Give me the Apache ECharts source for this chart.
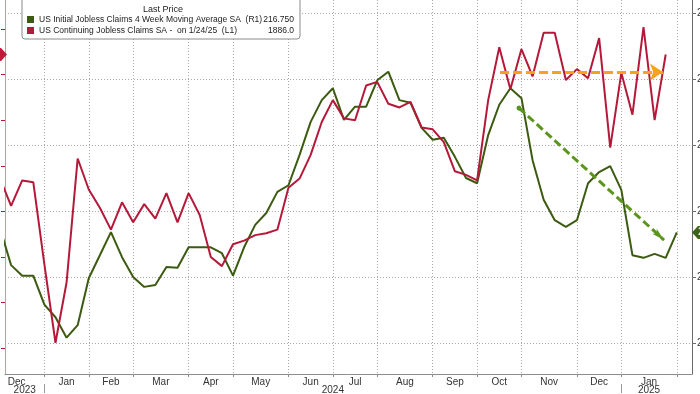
<!DOCTYPE html>
<html><head><meta charset="utf-8">
<script src="https://cdn.jsdelivr.net/npm/echarts@6/dist/echarts.min.js"></script>
<style>html,body{margin:0;padding:0;background:#fff}#c{width:700px;height:394px}</style>
</head><body><div id="c"></div><script>
// Weekly periods (Fridays)
const weeks = ['2023-12-08','2023-12-15','2023-12-22','2023-12-29',
'2024-01-05','2024-01-12','2024-01-19','2024-01-26','2024-02-02','2024-02-09','2024-02-16','2024-02-23',
'2024-03-01','2024-03-08','2024-03-15','2024-03-22','2024-03-29','2024-04-05','2024-04-12','2024-04-19','2024-04-26',
'2024-05-03','2024-05-10','2024-05-17','2024-05-24','2024-05-31','2024-06-07','2024-06-14','2024-06-21','2024-06-28',
'2024-07-05','2024-07-12','2024-07-19','2024-07-26','2024-08-02','2024-08-09','2024-08-16','2024-08-23','2024-08-30',
'2024-09-06','2024-09-13','2024-09-20','2024-09-27','2024-10-04','2024-10-11','2024-10-18','2024-10-25',
'2024-11-01','2024-11-08','2024-11-15','2024-11-22','2024-11-29','2024-12-06','2024-12-13','2024-12-20','2024-12-27',
'2025-01-03','2025-01-10','2025-01-17','2025-01-24','2025-01-31','2025-02-07'];

// US Initial Jobless Claims 4 Week Moving Average SA (thousands, right axis)
const initialClaims4wk = [217.4,211.8,210.2,210.2,205.8,203.9,200.8,202.7,209.8,213.3,216.8,213.0,
210.0,208.5,208.8,211.5,211.4,214.5,214.5,214.5,213.6,210.2,214.5,217.9,219.7,222.9,223.9,228.5,233.5,236.8,
238.6,233.8,235.8,235.8,239.8,241.1,236.8,236.4,232.6,230.8,231.1,228.2,225.0,224.2,231.5,236.1,238.6,237.1,
227.7,221.7,218.6,217.6,218.6,224.2,225.9,226.8,223.2,213.3,212.9,213.5,212.9,216.75];

// US Continuing Jobless Claims SA (thousands, left axis)
const continuingClaims = [1818,1803,1817,1816,1771,1728,1761,1829,1812,1802,1790,1805,
1794,1804,1796,1810,1794,1810,1798,1775,1770,1782,1784,1787,1788,1790,1813,1818,1831,1849,
1861,1851,1850,1869,1871,1859,1857,1860,1846,1845,1838,1822,1820,1817,1861,1890,1867,1889,
1874,1898,1898,1872,1878,1873,1895,1835,1876,1853,1901,1850,1886];

const seriesNames = ['US Initial Jobless Claims 4 Week Moving Average SA  (R1)',
                     'US Continuing Jobless Claims SA -  on 1/24/25  (L1)'];
const lastValues = ['216.750','1886.0'];
const monthLabels = ['Dec','Jan','Feb','Mar','Apr','May','Jun','Jul','Aug','Sep','Oct','Nov','Dec','Jan'];
const yearLabels = ['2023','2024','2025'];
const rightTicks = [200,210,220,230,240,250];
const leftTicks = [1725,1750,1775,1800,1825,1850,1875,1900];
// annotation arrows: [weekIndex, value]
const flatArrow = [[45.07,1876.4],[59.75,1876.4]];   // on continuing-claims axis
const downArrow = [[46.78,235.6],[59.85,215.6]];     // on initial-claims axis

// visible window (week index) and value ranges
const X_MIN = 0.4507, X_MAX = 62.37;
const L_MIN = 1710.86, L_MAX = 1915.9;
const R_MIN = 195.30, R_MAX = 251.97;

// month ticks at first week of each month
const monthStarts = [];
weeks.forEach((w,i)=>{
  if(i===0){ const dom = +w.slice(8,10); monthStarts.push(-Math.floor((dom-1)/7)); }
  else if(w.slice(0,7)!==weeks[i-1].slice(0,7)) monthStarts.push(i);
});
const monthMid = [];
for(let k=0;k<monthStarts.length-1;k++) monthMid.push((monthStarts[k]+monthStarts[k+1])/2);
const monthMap = {}; monthMid.forEach((m,k)=>monthMap[m.toFixed(2)] = monthLabels[k]);
const yearStarts = monthStarts.filter((s,k)=> s>=0 && s<weeks.length && weeks[s].slice(5,7)==='01');
const yearMid = [(X_MIN+yearStarts[0])/2, (yearStarts[0]+yearStarts[1])/2, monthMid[monthMid.length-1]];
const yearMap = {}; yearMid.forEach((m,k)=>yearMap[m.toFixed(2)] = yearLabels[k]);
const tickVals = monthStarts.filter(v=>v>=X_MIN && v<=X_MAX);

const GREEN = '#3c5a10', RED = '#b5193a';
const AX_FONT = 'Liberation Sans';
const LG_FONT = 'Liberation Sans';
const LG_SIZE = 8.5;
const dotted = {color:'#a9a9a9', type:[1,2], width:1};

const chart = echarts.init(document.getElementById('c'), null, {renderer:'canvas'});
chart.setOption({
  animation:false,
  backgroundColor:'#fff',
  grid: {left:5, right:8, top:0, bottom:20, containLabel:false, outerBoundsMode:'none'},
  title:{text:'Last Price', left:143, top:5, padding:0, z:10,
    textStyle:{fontFamily:LG_FONT, fontSize:9, fontWeight:'normal', color:'#222'}},
  legend:{
    orient:'vertical', left:22, top:-10, padding:[24,6,3,5],
    backgroundColor:'#fff', borderColor:'#8a8a8a', borderWidth:1, borderRadius:3,
    itemWidth:7, itemHeight:7, itemGap:0, icon:'rect', selectedMode:false,
    data:[seriesNames[0], seriesNames[1]],
    formatter: n => `{n|${n}}{v|${lastValues[seriesNames.indexOf(n)]}}`,
    textStyle:{fontFamily:LG_FONT, fontSize:LG_SIZE, color:'#222', lineHeight:11,
      rich:{n:{width:222, fontFamily:LG_FONT, fontSize:LG_SIZE, color:'#222'},
            v:{width:33, align:'right', fontFamily:LG_FONT, fontSize:LG_SIZE, color:'#222'}}}
  },
  xAxis:[{
    type:'value', min:X_MIN, max:X_MAX, position:'bottom',
    axisLine:{show:true, lineStyle:{color:'#8c8c8c'}},
    axisTick:{show:true, customValues:tickVals, length:3, lineStyle:{color:'#8c8c8c'}},
    splitLine:{show:true, lineStyle:dotted},
    axisLabel:{customValues:monthMid.filter(v=>v>=X_MIN&&v<=X_MAX), margin:3,
      formatter:v=>monthMap[(+v).toFixed(2)]||'', fontFamily:AX_FONT, fontSize:10, color:'#333'}
  },{
    type:'value', min:X_MIN, max:X_MAX, position:'bottom', offset:10,
    axisLine:{show:false},
    axisTick:{show:true, customValues:yearStarts, length:9, lineStyle:{color:'#9a9a9a'}},
    splitLine:{show:false},
    axisLabel:{customValues:yearMid, margin:1,
      formatter:v=>yearMap[(+v).toFixed(2)]||'', fontFamily:AX_FONT, fontSize:10, color:'#333'}
  }],
  yAxis:[{
    type:'value', position:'left', min:L_MIN, max:L_MAX,
    axisLine:{show:true, lineStyle:{color:'#d9909f'}},
    axisTick:{show:true, customValues:leftTicks, length:4, lineStyle:{color:RED}},
    splitLine:{show:false},
    axisLabel:{customValues:leftTicks, color:RED, fontFamily:AX_FONT, fontSize:10}
  },{
    type:'value', position:'right', min:R_MIN, max:R_MAX,
    axisLine:{show:true, lineStyle:{color:'#6b6b6b'}},
    axisTick:{show:true, customValues:rightTicks, length:4, lineStyle:{color:'#6b6b6b'}},
    splitLine:{show:true, lineStyle:dotted},
    axisLabel:{customValues:rightTicks, margin:5, color:'#333', fontFamily:AX_FONT, fontSize:10}
  }],
  series:[{
    name:seriesNames[0], type:'line', xAxisIndex:0, yAxisIndex:1,
    data: initialClaims4wk.map((v,i)=>[i,v]),
    showSymbol:false, symbol:'none', color:GREEN,
    lineStyle:{color:GREEN, width:2}, emphasis:{disabled:true},
    markLine:{silent:true, symbol:['circle','arrow'], symbolSize:[5,13], label:{show:false},
      lineStyle:{color:'#5c951c', width:3, type:[8,4]},
      data:[[{coord:downArrow[0]},{coord:downArrow[1]}]]},
    markPoint:{silent:true, data:[{coord:[X_MAX, initialClaims4wk[initialClaims4wk.length-1]],
      symbol:'path://M6,0 L48,0 L48,13 L6,13 L0,6.5 Z', symbolSize:[48,13], symbolOffset:[24,0],
      itemStyle:{color:'#3d6414'},
      label:{show:true, position:'insideLeft', distance:6, formatter:lastValues[0], color:'#fff', fontSize:10, fontFamily:AX_FONT}}]}
  },{
    name:seriesNames[1], type:'line', xAxisIndex:0, yAxisIndex:0,
    data: continuingClaims.map((v,i)=>[i,v]),
    showSymbol:false, symbol:'none', color:RED,
    lineStyle:{color:RED, width:2}, emphasis:{disabled:true},
    markLine:{silent:true, symbol:['none','arrow'], symbolSize:13, label:{show:false},
      lineStyle:{color:'#f5a21d', width:3, type:[9,4]},
      data:[[{coord:flatArrow[0]},{coord:flatArrow[1]}]]},
    markPoint:{silent:true, data:[{coord:[X_MIN, continuingClaims[continuingClaims.length-1]],
      symbol:'path://M0,0 L36,0 L42,6.5 L36,13 L0,13 Z', symbolSize:[42,13], symbolOffset:[-19,0],
      itemStyle:{color:'#c2183a'}, label:{show:false}}]}
  }]
});
</script></body></html>
